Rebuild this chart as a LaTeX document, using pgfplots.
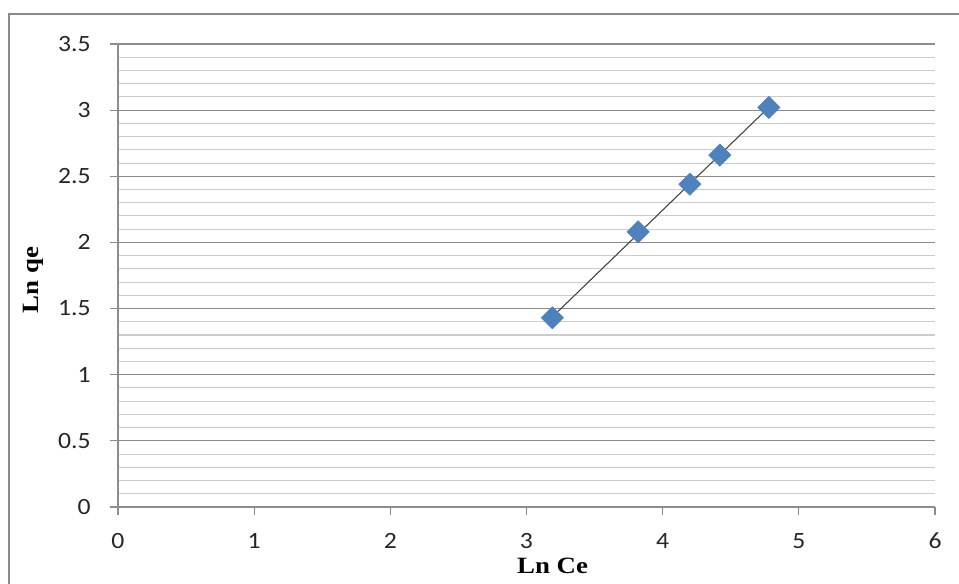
\documentclass[border=0pt]{standalone}
\usepackage{fontspec}
\setmainfont{Carlito}
\newfontfamily\timesfont{Liberation Serif}
\usepackage{graphicx}
\usepackage{pgfplots}
\pgfplotsset{compat=1.18}
\definecolor{markblue}{HTML}{4F81BD}
\definecolor{majgrid}{HTML}{8C8C8C}
\definecolor{mingrid}{HTML}{CCCCCC}
\definecolor{framegray}{HTML}{8A8A8A}
\begin{document}
\begin{tikzpicture}
\path[use as bounding box] (-88.5pt,-57.75pt) rectangle (630.75pt,380.25pt);
\draw[framegray, line width=1.5pt] (-81.75pt,-70pt) rectangle (645pt,369.75pt);
\begin{axis}[
  at={(0,0)}, anchor=south west,
  scale only axis,
  width=612.75pt, height=347.25pt,
  xmin=0, xmax=6, ymin=0, ymax=3.5,
  xtick={0,1,...,6},
  ytick={0,0.5,...,3.5},
  minor y tick num=4,
  axis x line=bottom, axis y line=left,
  axis line style={-, color=majgrid, line width=0.8pt},
  ymajorgrids, yminorgrids,
  major grid style={majgrid, line width=0.8pt},
  minor grid style={mingrid, line width=0.8pt},
  major tick length=6pt,
  minor tick length=0pt,
  tick style={majgrid, line width=0.8pt},
  xtick align=outside, ytick align=outside,
  tick label style={font=\fontsize{17.5}{20}\selectfont, text=black!85},
  /pgf/number format/assume math mode=true,
  xticklabel={\scalebox{1.1}[1]{\pgfmathprintnumber{\tick}}},
  yticklabel={\scalebox{1.1}[1]{\pgfmathprintnumber[fixed,precision=1]{\tick}}},
  yticklabel style={xshift=-11pt},
  xticklabel style={yshift=-10pt},
  xlabel={\scalebox{1.15}[1]{\timesfont\bfseries Ln Ce}},
  ylabel={\scalebox{1.15}[1]{\timesfont\bfseries Ln qe}},
  label style={font=\fontsize{17.5}{20}\selectfont},
  xlabel style={at={(axis description cs:0.532,0)}, anchor=north, yshift=-35pt},
  ylabel style={at={(axis description cs:0,0.49)}, anchor=south, yshift=52pt},
  clip=false,
]
\addplot[color=black!75, line width=0.8pt, no marks] coordinates {(3.19,1.437) (4.78,3.022)};
\addplot[only marks, mark=square*, mark size=5.9pt, mark options={rotate=45, fill=markblue, draw=markblue}] coordinates {
(3.19,1.43) (3.82,2.08) (4.20,2.44) (4.42,2.66) (4.78,3.02)};
\end{axis}
\end{tikzpicture}
\end{document}
